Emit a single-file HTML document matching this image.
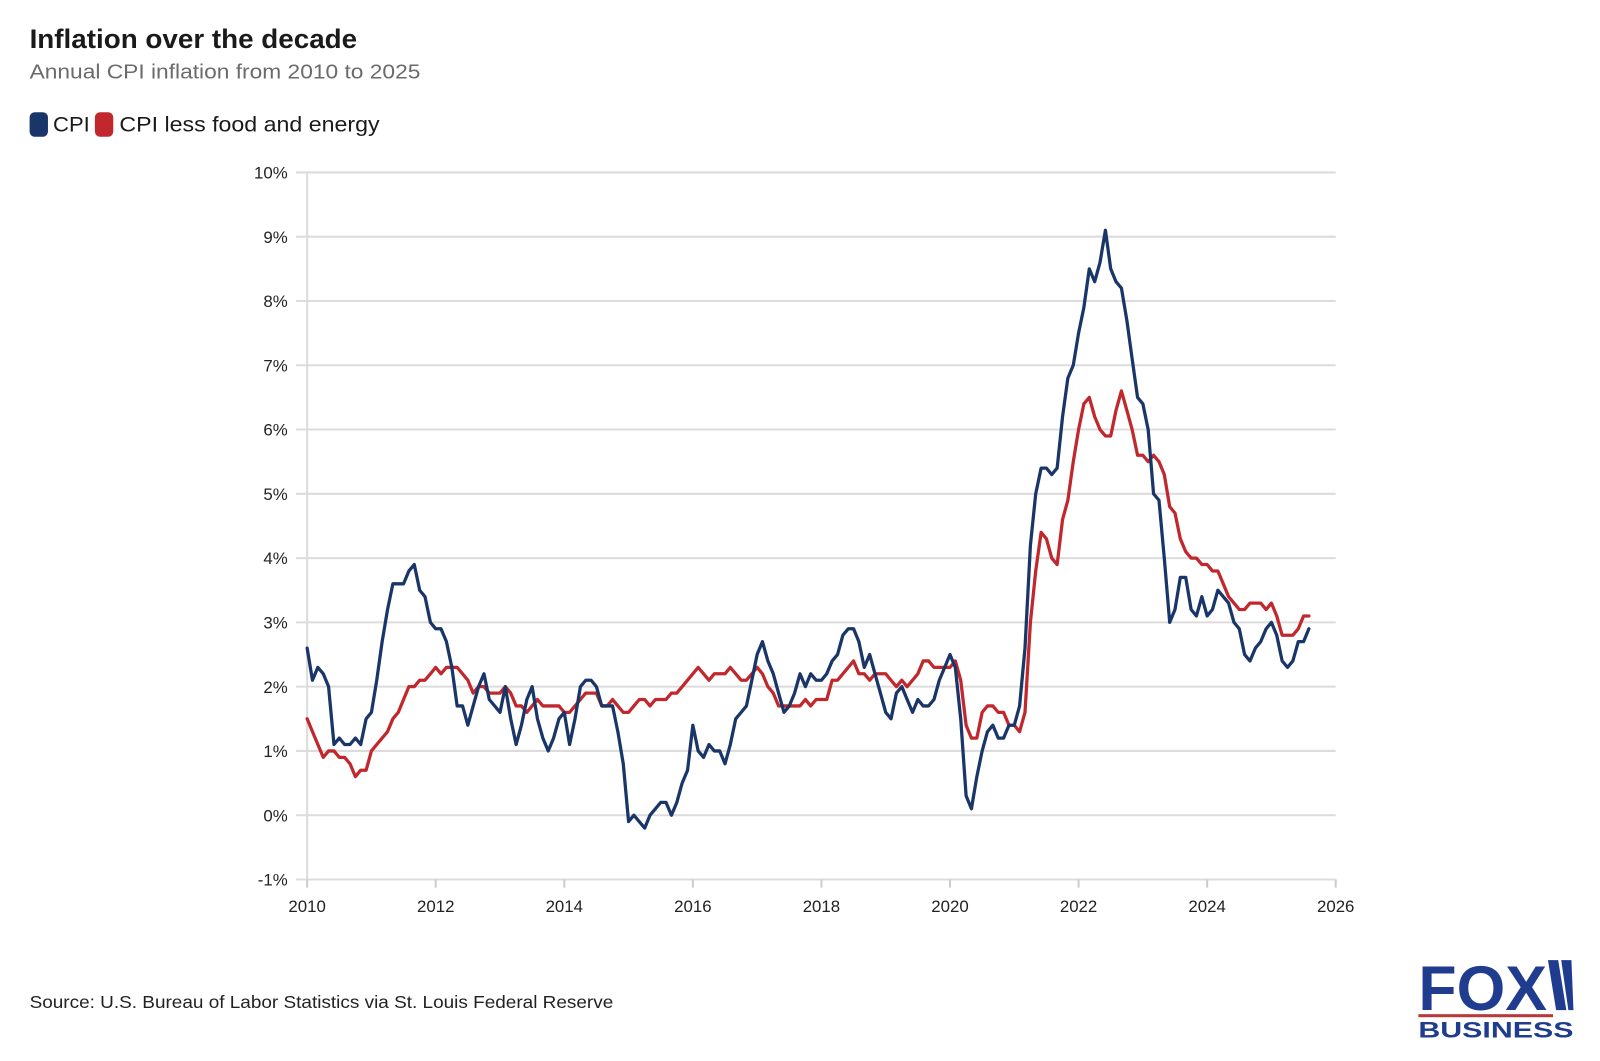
<!DOCTYPE html>
<html><head><meta charset="utf-8">
<style>
body{margin:0;background:#fff;width:1600px;height:1056px;overflow:hidden;font-family:"Liberation Sans",sans-serif;}
</style></head>
<body>
<svg width="1600" height="1056" viewBox="0 0 1568 1035" preserveAspectRatio="none">
<text x="29" y="47" font-size="26" font-weight="bold" fill="#1a1a1a" textLength="321" lengthAdjust="spacingAndGlyphs">Inflation over the decade</text>
<text x="29" y="77" font-size="20" fill="#6b6b6b" textLength="383" lengthAdjust="spacingAndGlyphs">Annual CPI inflation from 2010 to 2025</text>
<g>
<rect x="29" y="110" width="18" height="24" rx="5" fill="#1a3668"/>
<text x="52" y="129" font-size="21" fill="#1a1a1a" textLength="36" lengthAdjust="spacingAndGlyphs">CPI</text>
<rect x="93" y="110" width="18" height="24" rx="5" fill="#c0282d"/>
<text x="117" y="129" font-size="21" fill="#1a1a1a" textLength="255" lengthAdjust="spacingAndGlyphs">CPI less food and energy</text>
</g>
<g id="grid"></g>
<g id="lines"></g>
<text x="29" y="988" font-size="17" fill="#222" textLength="572" lengthAdjust="spacingAndGlyphs">Source: U.S. Bureau of Labor Statistics via St. Louis Federal Reserve</text>
<g>
<text x="1390" y="990" font-size="62" font-weight="bold" fill="#1f3c8f" textLength="126" lengthAdjust="spacingAndGlyphs">FOX</text>
<polygon points="1517,941 1527,941 1535,990 1525,990" fill="#1f3c8f"/>
<polygon points="1530,941 1540,941 1542,990 1537,990" fill="#1f3c8f"/>
<rect x="1390" y="994" width="132" height="3" fill="#b53a3a"/>
<text x="1390" y="1017" font-size="22" font-weight="bold" fill="#1f3c8f" textLength="152" lengthAdjust="spacingAndGlyphs">BUSINESS</text>
</g>
</svg>
<script>
const yTicks=[-1,0,1,2,3,4,5,6,7,8,9,10];
const xTicks=[2010,2012,2014,2016,2018,2020,2022,2024,2026];
const cpi=[2.6,2.1,2.3,2.2,2.0,1.1,1.2,1.1,1.1,1.2,1.1,1.5,
1.6,2.1,2.7,3.2,3.6,3.6,3.6,3.8,3.9,3.5,3.4,3.0,
2.9,2.9,2.7,2.3,1.7,1.7,1.4,1.7,2.0,2.2,1.8,1.7,
1.6,2.0,1.5,1.1,1.4,1.8,2.0,1.5,1.2,1.0,1.2,1.5,
1.6,1.1,1.5,2.0,2.1,2.1,2.0,1.7,1.7,1.7,1.3,0.8,
-0.1,0.0,-0.1,-0.2,0.0,0.1,0.2,0.2,0.0,0.2,0.5,0.7,
1.4,1.0,0.9,1.1,1.0,1.0,0.8,1.1,1.5,1.6,1.7,2.1,
2.5,2.7,2.4,2.2,1.9,1.6,1.7,1.9,2.2,2.0,2.2,2.1,
2.1,2.2,2.4,2.5,2.8,2.9,2.9,2.7,2.3,2.5,2.2,1.9,
1.6,1.5,1.9,2.0,1.8,1.6,1.8,1.7,1.7,1.8,2.1,2.3,
2.5,2.3,1.5,0.3,0.1,0.6,1.0,1.3,1.4,1.2,1.2,1.4,
1.4,1.7,2.6,4.2,5.0,5.4,5.4,5.3,5.4,6.2,6.8,7.0,
7.5,7.9,8.5,8.3,8.6,9.1,8.5,8.3,8.2,7.7,7.1,6.5,
6.4,6.0,5.0,4.9,4.0,3.0,3.2,3.7,3.7,3.2,3.1,3.4,
3.1,3.2,3.5,3.4,3.3,3.0,2.9,2.5,2.4,2.6,2.7,2.9,
3.0,2.8,2.4,2.3,2.4,2.7,2.7,2.9];
const core=[1.5,1.3,1.1,0.9,1.0,1.0,0.9,0.9,0.8,0.6,0.7,0.7,
1.0,1.1,1.2,1.3,1.5,1.6,1.8,2.0,2.0,2.1,2.1,2.2,
2.3,2.2,2.3,2.3,2.3,2.2,2.1,1.9,2.0,2.0,1.9,1.9,
1.9,2.0,1.9,1.7,1.7,1.6,1.7,1.8,1.7,1.7,1.7,1.7,
1.6,1.6,1.7,1.8,1.9,1.9,1.9,1.7,1.7,1.8,1.7,1.6,
1.6,1.7,1.8,1.8,1.7,1.8,1.8,1.8,1.9,1.9,2.0,2.1,
2.2,2.3,2.2,2.1,2.2,2.2,2.2,2.3,2.2,2.1,2.1,2.2,
2.3,2.2,2.0,1.9,1.7,1.7,1.7,1.7,1.7,1.8,1.7,1.8,
1.8,1.8,2.1,2.1,2.2,2.3,2.4,2.2,2.2,2.1,2.2,2.2,
2.2,2.1,2.0,2.1,2.0,2.1,2.2,2.4,2.4,2.3,2.3,2.3,
2.3,2.4,2.1,1.4,1.2,1.2,1.6,1.7,1.7,1.6,1.6,1.4,
1.4,1.3,1.6,3.0,3.8,4.4,4.3,4.0,3.9,4.6,4.9,5.5,
6.0,6.4,6.5,6.2,6.0,5.9,5.9,6.3,6.6,6.3,6.0,5.6,
5.6,5.5,5.6,5.5,5.3,4.8,4.7,4.3,4.1,4.0,4.0,3.9,
3.9,3.8,3.8,3.6,3.4,3.3,3.2,3.2,3.3,3.3,3.3,3.2,
3.3,3.1,2.8,2.8,2.8,2.9,3.1,3.1];
const NS="http://www.w3.org/2000/svg";
const X0=301,X1=1309,Y0=799,PX=63;
function xs(year){return X0+(year-2010)/16*(X1-X0);}
function ys(v){return Y0-v*PX;}
function mk(tag,attrs,parent){const e=document.createElementNS(NS,tag);for(const k in attrs)e.setAttribute(k,attrs[k]);parent.appendChild(e);return e;}
const grid=document.getElementById('grid');
yTicks.forEach(t=>{
  const l=mk('line',{x1:290,x2:X1,y1:ys(t),y2:ys(t),stroke:'#dcdcdc','stroke-width':2},grid);
  
  
  const tx=mk('text',{x:282,y:ys(t)+6,'font-size':16.5,'text-anchor':'end',fill:'#222'},grid);
  tx.textContent=t+'%';
  
  
});
const ax=mk('line',{x1:X0,x2:X0,y1:ys(10),y2:ys(-1),stroke:'#dcdcdc','stroke-width':2},grid);


xTicks.forEach(t=>{
  mk('line',{x1:xs(t),x2:xs(t),y1:ys(-1),y2:ys(-1)+8,stroke:'#ccc','stroke-width':2},grid);
  const tx=mk('text',{x:xs(t),y:894,'font-size':16.5,'text-anchor':'middle',fill:'#222'},grid);
  tx.textContent=t;
  
  
});
const lines=document.getElementById('lines');
function draw(arr,color,name){
  const pts=arr.map((v,i)=>xs(2010+i/12).toFixed(1)+','+ys(v).toFixed(1)).join(' ');
  const p=mk('polyline',{points:pts,fill:'none',stroke:color,'stroke-width':3.2,'stroke-linejoin':'round','stroke-linecap':'round'},lines);
  
  
}
draw(core,'#c0282d','line-core-cpi');
draw(cpi,'#1a3668','line-cpi');
</script>
</body></html>
